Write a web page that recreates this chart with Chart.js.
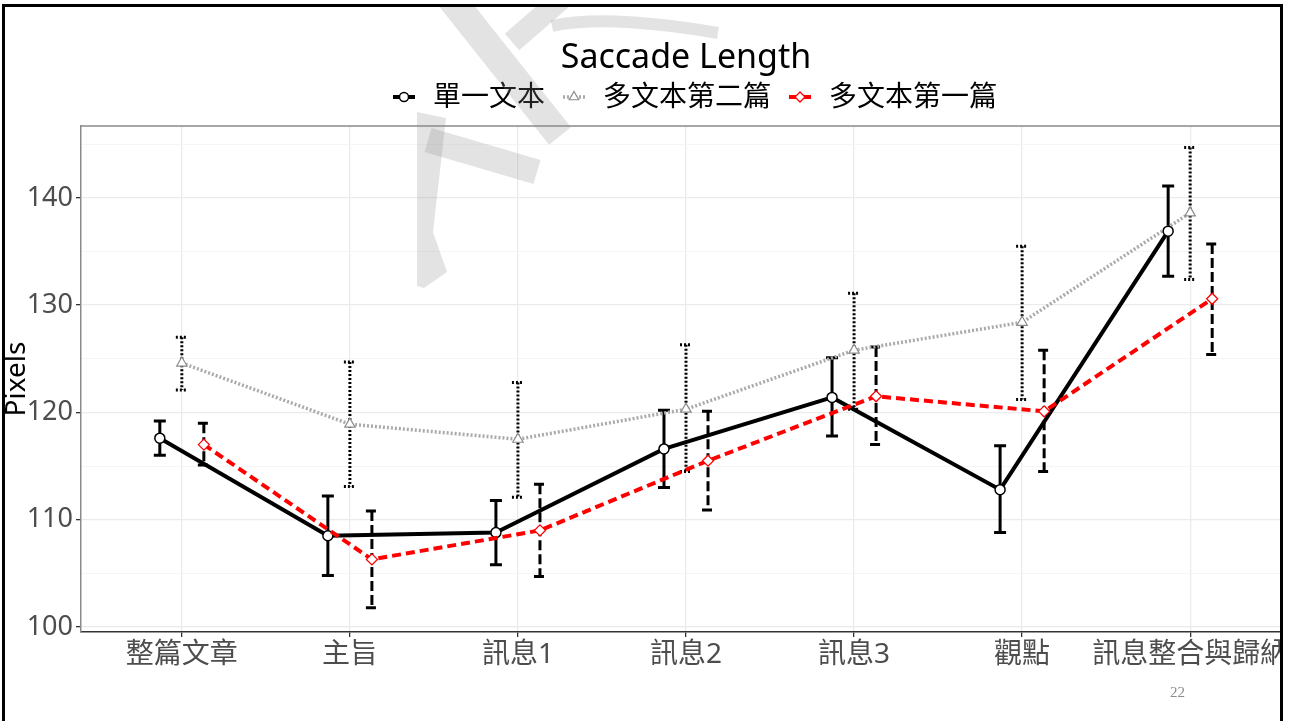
<!DOCTYPE html>
<html lang="zh-Hant">
<head>
    <meta charset="UTF-8">
    <title>Saccade Length</title>
    <script src="https://cdn.jsdelivr.net/npm/chart.js"></script>
    <style>
        body {
            margin: 0;
            width: 1291px;
            height: 721px;
            overflow: hidden;
            background: #fff;
            position: relative;
        }
        #frame {
            position: absolute;
            left: 2px;
            top: 4px;
            width: 1281px;
            height: 760px;
            border: 3px solid #000;
            border-bottom: none;
            box-sizing: border-box;
            overflow: hidden;
        }
        #box {
            position: absolute;
            left: -5px;
            top: -7px;
            width: 1300px;
            height: 721px;
        }
        #page {
            position: absolute;
            left: 1165px;
            top: 677px;
            font: 15px "Liberation Serif", serif;
            color: #8c8c8c;
        }
    </style>
</head>
<body>
    <div id="frame">
        <div id="box"><canvas id="grafico"></canvas></div>
        <div id="page">22</div>
    </div>

    <script>
        // dados
        const categorias = ['整篇文章', '主旨', '訊息1', '訊息2', '訊息3', '觀點', '訊息整合與歸納'];
        const nomes = ['單一文本', '多文本第二篇', '多文本第一篇'];

        const unico = [117.6, 108.5, 108.8, 116.6, 121.4, 112.8, 136.9];
        const unicoMin = [116.0, 104.8, 105.8, 113.0, 117.8, 108.8, 132.7];
        const unicoMax = [119.2, 112.2, 111.8, 120.2, 125.1, 116.9, 141.1];

        const segundo = [124.6, 118.9, 117.5, 120.3, 125.8, 128.4, 138.6];
        const segundoMin = [122.1, 113.1, 112.1, 114.5, 120.3, 121.2, 132.4];
        const segundoMax = [127.0, 124.7, 122.8, 126.3, 131.1, 135.5, 144.7];

        const primeiro = [117.0, 106.3, 109.0, 115.5, 121.5, 120.1, 130.6];
        const primeiroMin = [115.1, 101.8, 104.7, 110.9, 117.0, 114.5, 125.4];
        const primeiroMax = [119.0, 110.8, 113.3, 120.1, 126.1, 125.8, 135.7];

        const yTicks = [100, 105, 110, 115, 120, 125, 130, 135, 140, 145];

        const fonte = "'Noto Sans', 'Noto Sans CJK TC', sans-serif";
        const desvio = 0.131; // position dodge

        function pontos(valores, d) {
            return valores.map((v, i) => ({ x: i + d, y: v }));
        }

        const series = [
            {
                label: nomes[0], data: pontos(unico, -desvio), lo: unicoMin, hi: unicoMax, dx: -desvio,
                borderColor: '#000', borderWidth: 4, borderDash: [],
                pointStyle: 'circle', pointRadius: 5, pointBorderWidth: 1.5,
                pointBorderColor: '#000', pointBackgroundColor: '#fff',
                barDash: [], order: 1
            },
            {
                label: nomes[1], data: pontos(segundo, 0), lo: segundoMin, hi: segundoMax, dx: 0,
                borderColor: '#aaaaaa', borderWidth: 3.5, borderDash: [2, 2],
                pointStyle: 'triangle', pointRadius: 6, pointBorderWidth: 1.2,
                pointBorderColor: '#8c8c8c', pointBackgroundColor: '#fff',
                barDash: [2, 2], order: 2
            },
            {
                label: nomes[2], data: pontos(primeiro, desvio), lo: primeiroMin, hi: primeiroMax, dx: desvio,
                borderColor: '#ff0000', borderWidth: 4, borderDash: [9, 5],
                pointStyle: 'rectRot', pointRadius: 5.5, pointBorderWidth: 1.3,
                pointBorderColor: '#ff0000', pointBackgroundColor: '#fff',
                barDash: [10, 4], order: 0
            }
        ];

        // barras de erro
        const barrasErro = {
            id: 'barrasErro',
            beforeDatasetsDraw(chart) {
                const ctx = chart.ctx;
                const x = chart.scales.x, y = chart.scales.y;
                ctx.save();
                chart.data.datasets.forEach(ds => {
                    ctx.strokeStyle = '#000';
                    ctx.lineWidth = 3;
                    ctx.setLineDash(ds.barDash);
                    ds.lo.forEach((lo, i) => {
                        const px = x.getPixelForValue(i + ds.dx);
                        const t = y.getPixelForValue(ds.hi[i]);
                        const b = y.getPixelForValue(lo);
                        ctx.beginPath();
                        ctx.moveTo(px - 6, t); ctx.lineTo(px + 6, t);
                        ctx.moveTo(px, t); ctx.lineTo(px, b);
                        ctx.moveTo(px - 6, b); ctx.lineTo(px + 6, b);
                        ctx.stroke();
                    });
                });
                ctx.restore();
            }
        };

        // título, legenda, moldura do painel e marca d'água
        const extras = {
            id: 'extras',
            afterDraw(chart) {
                const ctx = chart.ctx;
                const a = chart.chartArea;
                ctx.save();
                ctx.strokeStyle = '#8a8a8a';
                ctx.lineWidth = 1.5;
                ctx.beginPath();
                ctx.moveTo(a.left, a.top); ctx.lineTo(a.right, a.top);
                ctx.stroke();

                ctx.fillStyle = '#000';
                ctx.textBaseline = 'middle';
                ctx.textAlign = 'center';
                ctx.font = '34px ' + fonte;
                ctx.fillText('Saccade Length', (a.left + a.right) / 2, 58);

                ctx.font = '28px ' + fonte;
                ctx.textAlign = 'left';
                const ds = chart.data.datasets;
                const larg = ds.map(d => ctx.measureText(d.label).width);
                const total = larg.reduce((s, w) => s + w + 40, 0) + 36;
                let cx = 695 - total / 2;
                const cy = 97;
                ds.forEach((d, k) => {
                    ctx.strokeStyle = d.borderColor;
                    ctx.lineWidth = d.borderWidth;
                    ctx.setLineDash(d.borderDash);
                    ctx.beginPath();
                    ctx.moveTo(cx, cy); ctx.lineTo(cx + 22, cy);
                    ctx.stroke();
                    ctx.setLineDash([]);
                    ctx.fillStyle = '#fff';
                    ctx.strokeStyle = d.pointBorderColor;
                    ctx.lineWidth = d.pointBorderWidth;
                    Chart.helpers.drawPoint(ctx, {
                        pointStyle: d.pointStyle, radius: d.pointRadius - 0.5,
                        borderWidth: d.pointBorderWidth, rotation: 0
                    }, cx + 11, cy);
                    ctx.fillStyle = '#000';
                    ctx.fillText(d.label, cx + 40, cy + 1);
                    cx += 40 + larg[k] + 18;
                });

                // marca d'água
                ctx.globalAlpha = 0.24;
                ctx.strokeStyle = '#8c8c8c';
                ctx.fillStyle = '#8c8c8c';
                ctx.lineCap = 'butt';
                ctx.lineWidth = 28;
                ctx.beginPath(); ctx.moveTo(448, -5); ctx.lineTo(560, 136); ctx.stroke();
                ctx.lineWidth = 22;
                ctx.beginPath(); ctx.moveTo(566, -5); ctx.lineTo(512, 42); ctx.stroke();
                ctx.lineWidth = 12;
                ctx.beginPath(); ctx.moveTo(552, 26); ctx.quadraticCurveTo(605, 14, 718, 33); ctx.stroke();
                ctx.lineWidth = 25;
                ctx.beginPath(); ctx.moveTo(428, 140); ctx.lineTo(537, 172); ctx.stroke();
                ctx.beginPath();
                ctx.moveTo(417, 112); ctx.lineTo(446, 118); ctx.lineTo(433, 232);
                ctx.lineTo(447, 272); ctx.lineTo(424, 288); ctx.lineTo(417, 286);
                ctx.closePath();
                ctx.fill();
                ctx.restore();
            }
        };

        new Chart(document.getElementById('grafico'), {
            type: 'line',
            data: { datasets: series },
            options: {
                responsive: true,
                maintainAspectRatio: false,
                animation: false,
                layout: { padding: { top: 126, right: 9, left: 0, bottom: 0 } },
                plugins: {
                    legend: { display: false },
                    title: { display: false },
                    tooltip: { enabled: false }
                },
                scales: {
                    x: {
                        type: 'linear',
                        min: -0.6,
                        max: 6.6,
                        afterBuildTicks: s => { s.ticks = categorias.map((c, i) => ({ value: i })); },
                        afterFit: s => { s.height = 89; },
                        ticks: {
                            callback: v => categorias[v],
                            font: { family: fonte, size: 28 },
                            color: '#4d4d4d',
                            padding: 1,
                            maxRotation: 0,
                            autoSkip: false
                        },
                        grid: { color: '#ebebeb', lineWidth: 1.3, tickLength: 5, tickColor: '#333' },
                        border: { color: '#333', width: 1.5 }
                    },
                    y: {
                        min: 99.53,
                        max: 146.7,
                        afterBuildTicks: s => { s.ticks = yTicks.map(v => ({ value: v })); },
                        afterFit: s => { s.width = 81; },
                        ticks: {
                            callback: v => (v % 10 === 0 ? v : ''),
                            font: { family: fonte, size: 27 },
                            color: '#4d4d4d',
                            padding: 3
                        },
                        grid: {
                            color: c => (c.tick && c.tick.value % 10 === 0 ? '#ebebeb' : '#f3f3f3'),
                            lineWidth: c => (c.tick && c.tick.value % 10 === 0 ? 1.3 : 0.8),
                            tickColor: c => (c.tick && c.tick.value % 10 === 0 ? '#333' : 'rgba(0,0,0,0)'),
                            tickLength: 5
                        },
                        border: { color: '#8a8a8a', width: 1.5 },
                        title: {
                            display: true,
                            text: 'Pixels',
                            font: { family: fonte, size: 28 },
                            color: '#000',
                            padding: 0
                        }
                    }
                }
            },
            plugins: [barrasErro, extras]
        });
    </script>
</body>
</html>
